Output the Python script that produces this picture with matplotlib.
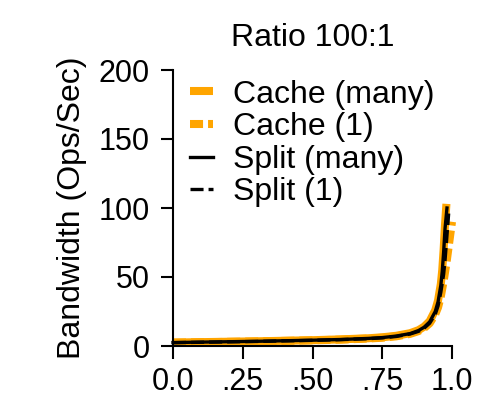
import matplotlib
matplotlib.use("Agg")
import matplotlib.pyplot as plt

plt.rcParams['font.family'] = ['Liberation Sans', 'DejaVu Sans']
plt.rcParams['lines.scale_dashes'] = False

# Data (fraction of requests vs bandwidth)
cache_many_x = [0.0, 0.1, 0.2, 0.3, 0.4, 0.5, 0.6, 0.7, 0.75, 0.8, 0.85, 0.88, 0.9, 0.92, 0.94, 0.95, 0.96, 0.965, 0.97, 0.975, 0.98]
cache_many_y = [2.5, 2.8, 3.1, 3.4, 3.8, 4.2, 4.8, 5.6, 6.3, 7.4, 9.3, 11.5, 14, 18, 26, 33, 45, 55, 70, 88, 103]

cache_one_x = [0.0, 0.1, 0.2, 0.3, 0.4, 0.5, 0.6, 0.7, 0.75, 0.8, 0.85, 0.88, 0.9, 0.92, 0.94, 0.95, 0.96, 0.97, 0.98, 0.99, 1.0]
cache_one_y = [2.4, 2.7, 3.0, 3.3, 3.7, 4.1, 4.6, 5.4, 6.0, 7.0, 8.8, 10.8, 13, 16.5, 23, 28, 36, 47, 60, 75, 90]

split_many_x = [0.0, 0.1, 0.2, 0.3, 0.4, 0.5, 0.6, 0.7, 0.75, 0.8, 0.85, 0.88, 0.9, 0.92, 0.94, 0.95, 0.96, 0.965, 0.97, 0.975, 0.982]
split_many_y = [2.5, 2.8, 3.1, 3.4, 3.8, 4.2, 4.7, 5.5, 6.1, 7.2, 9.0, 11.2, 13.6, 17.5, 25, 32, 44, 54, 68, 85, 100]

split_one_x = [0.0, 0.1, 0.2, 0.3, 0.4, 0.5, 0.6, 0.7, 0.75, 0.8, 0.85, 0.88, 0.9, 0.92, 0.94, 0.95, 0.96, 0.97, 0.975, 0.98, 0.988]
split_one_y = [2.4, 2.7, 3.0, 3.3, 3.7, 4.1, 4.6, 5.3, 5.9, 6.9, 8.7, 10.6, 12.9, 16.5, 23, 29, 39, 52, 62, 75, 96]

x_ticks = [0.0, 0.25, 0.5, 0.75, 1.0]
x_ticklabels = ["0.0", ".25", ".50", ".75", "1.0"]
y_ticks = [0, 50, 100, 150, 200]

fig = plt.figure(figsize=(4.87, 4.05), dpi=100)
ax = fig.add_axes([173/487, 59/405, 279/487, 276/405])

orange = '#FFA500'
dash = (9.4, 3.6)
ax.plot(cache_many_x, cache_many_y, color=orange, lw=5.8, solid_capstyle='butt', clip_on=False, label='Cache (many)')
ax.plot(cache_one_x, cache_one_y, color=orange, lw=5.8, dashes=dash, clip_on=False, label='Cache (1)')
ax.plot(split_many_x, split_many_y, color='black', lw=2.4, clip_on=False, label='Split (many)')
ax.plot(split_one_x, split_one_y, color='black', lw=2.4, dashes=dash, clip_on=False, label='Split (1)')

ax.set_xlim(0, 1)
ax.set_ylim(0, 200)
ax.set_xticks(x_ticks)
ax.set_xticklabels(x_ticklabels)
ax.set_yticks(y_ticks)
for s in ['top', 'right']:
    ax.spines[s].set_visible(False)
for s in ['left', 'bottom']:
    ax.spines[s].set_linewidth(1.5)
ax.tick_params(axis='both', labelsize=22, width=1.5, length=9)
ax.tick_params(axis='y', pad=8)
ax.tick_params(axis='x', pad=6)

ax.set_ylabel('Bandwidth (Ops/Sec)', fontsize=23, labelpad=8)
ax.set_title('Ratio 100:1', fontsize=23, pad=17)

leg = ax.legend(loc='upper left', bbox_to_anchor=(0.06, 0.965), frameon=False, fontsize=23,
                handlelength=0.72, handletextpad=0.62, labelspacing=0.08, borderaxespad=0, borderpad=0)

fig.savefig('out.png', dpi=100)
